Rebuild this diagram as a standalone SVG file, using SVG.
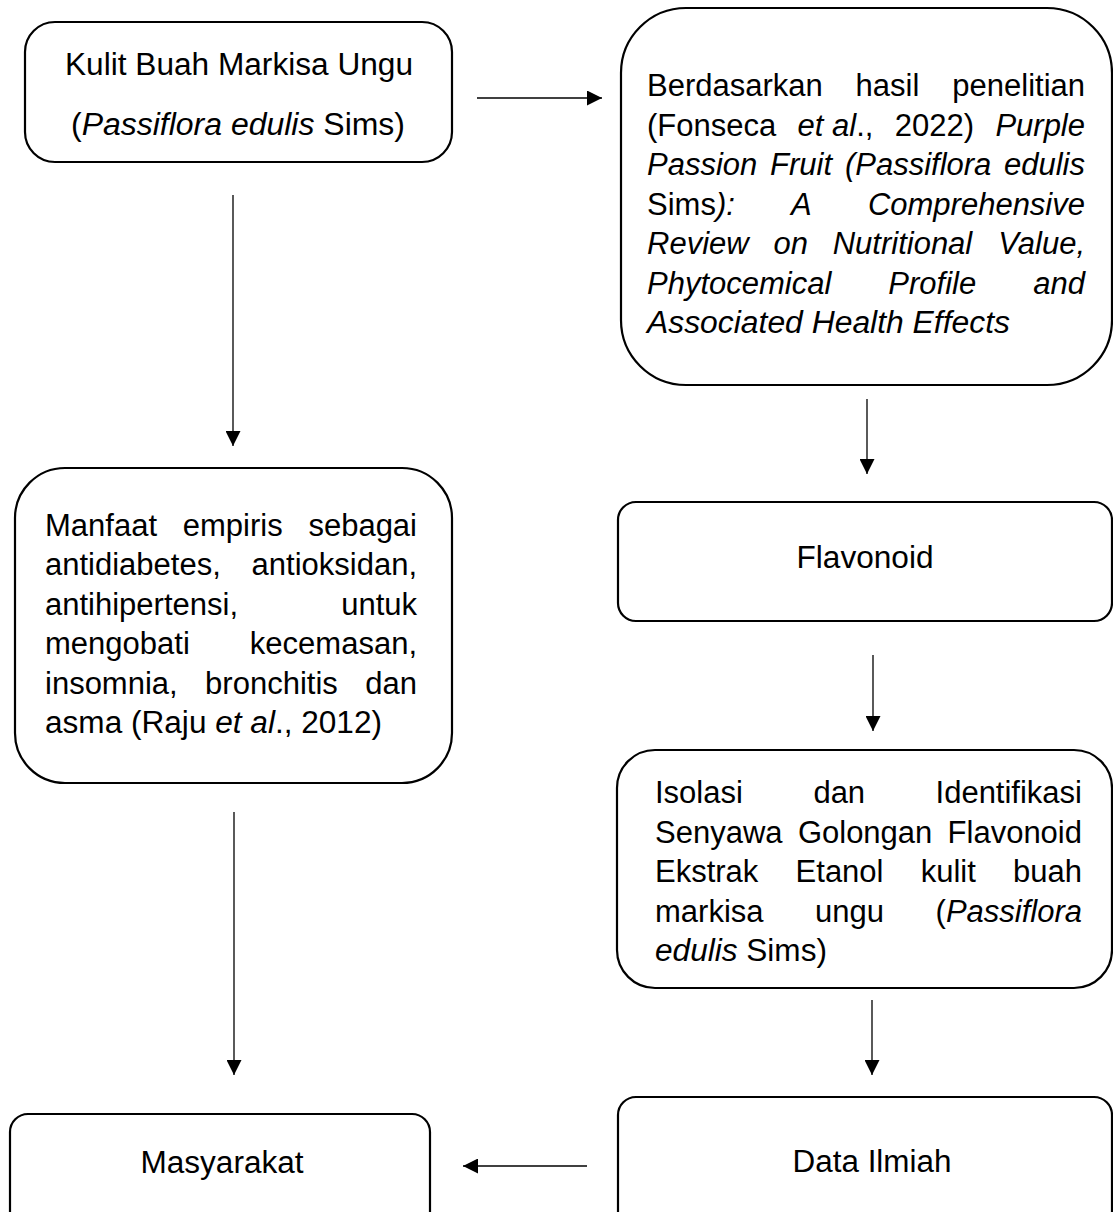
<svg xmlns="http://www.w3.org/2000/svg" width="1113" height="1212" viewBox="0 0 1113 1212">
<style>
.box{fill:#fff;stroke:#000;stroke-width:2.2}
.t{font-family:"Liberation Sans",Arial,sans-serif;font-size:31px;fill:#000}
.c{text-anchor:middle}
.e{text-anchor:end}
.i{font-style:italic}
.cn{stroke:#000;stroke-width:1.3;fill:none;marker-end:url(#ah)}
</style>
<defs>
<marker id="ah" markerUnits="userSpaceOnUse" markerWidth="15" markerHeight="15" refX="15" refY="7.5" orient="auto">
<path d="M0,0 L15,7.5 L0,15 Z" fill="#000"/>
</marker>
</defs>
<rect width="1113" height="1212" fill="#fff"/>

<g id="connectors">
<line class="cn" x1="477" y1="98" x2="602" y2="98"/>
<line class="cn" x1="233" y1="195" x2="233" y2="446"/>
<line class="cn" x1="234" y1="812" x2="234" y2="1075"/>
<line class="cn" x1="867" y1="399" x2="867" y2="474"/>
<line class="cn" x1="873" y1="655" x2="873" y2="731"/>
<line class="cn" x1="872" y1="1000" x2="872" y2="1075"/>
<line class="cn" x1="587" y1="1166" x2="463" y2="1166"/>
</g>

<g id="kulit">
<rect class="box" x="25" y="22" width="427" height="140" rx="30"/>
<text class="t c" x="239" y="75" textLength="348" lengthAdjust="spacingAndGlyphs">Kulit Buah Markisa Ungu</text>
<text class="t c" x="238" y="135" textLength="334" lengthAdjust="spacingAndGlyphs">(<tspan class="i">Passiflora edulis</tspan> Sims)</text>
</g>

<g id="berdasarkan">
<rect class="box" x="621" y="8" width="491" height="377" rx="65"/>
<text class="t" x="647" y="96">Berdasarkan</text>
<text class="t" x="855.6" y="96">hasil</text>
<text class="t e" x="1085" y="96">penelitian</text>
<text class="t" x="647" y="135.5">(Fonseca</text>
<text class="t" x="797.6" y="135.5"><tspan class="i">et al</tspan>.,</text>
<text class="t" x="894.8" y="135.5">2022)</text>
<text class="t e i" x="1085" y="135.5">Purple</text>
<text class="t i" x="647" y="175">Passion</text>
<text class="t i" x="770.1" y="175">Fruit</text>
<text class="t i" x="844.9" y="175">(Passiflora</text>
<text class="t e i" x="1085" y="175">edulis</text>
<text class="t" x="647" y="214.5">Sims<tspan class="i">):</tspan></text>
<text class="t i" x="791" y="214.5">A</text>
<text class="t e i" x="1085" y="214.5">Comprehensive</text>
<text class="t i" x="647" y="254">Review</text>
<text class="t i" x="773.4" y="254">on</text>
<text class="t i" x="832.7" y="254">Nutritional</text>
<text class="t e i" x="1085" y="254">Value,</text>
<text class="t i" x="647" y="293.5">Phytocemical</text>
<text class="t i" x="888.3" y="293.5">Profile</text>
<text class="t e i" x="1085" y="293.5">and</text>
<text class="t i" x="647" y="333" textLength="363" lengthAdjust="spacingAndGlyphs">Associated Health Effects</text>
</g>

<g id="manfaat">
<rect class="box" x="15" y="468" width="437" height="315" rx="50"/>
<text class="t" x="45" y="535.5">Manfaat</text>
<text class="t" x="182.8" y="535.5">empiris</text>
<text class="t e" x="417" y="535.5">sebagai</text>
<text class="t" x="45" y="575">antidiabetes,</text>
<text class="t e" x="417" y="575">antioksidan,</text>
<text class="t" x="45" y="614.5">antihipertensi,</text>
<text class="t e" x="417" y="614.5">untuk</text>
<text class="t" x="45" y="654">mengobati</text>
<text class="t e" x="417" y="654">kecemasan,</text>
<text class="t" x="45" y="693.5">insomnia,</text>
<text class="t" x="205.1" y="693.5">bronchitis</text>
<text class="t e" x="417" y="693.5">dan</text>
<text class="t" x="45" y="733" textLength="337" lengthAdjust="spacingAndGlyphs">asma (Raju <tspan class="i">et al</tspan>., 2012)</text>
</g>

<g id="flavonoid">
<rect class="box" x="618" y="502" width="494" height="119" rx="18"/>
<text class="t c" x="865" y="568" textLength="137" lengthAdjust="spacingAndGlyphs">Flavonoid</text>
</g>

<g id="isolasi">
<rect class="box" x="617" y="750" width="495" height="238" rx="38"/>
<text class="t" x="655" y="803">Isolasi</text>
<text class="t" x="813.4" y="803">dan</text>
<text class="t e" x="1082" y="803">Identifikasi</text>
<text class="t" x="655" y="842.5">Senyawa</text>
<text class="t" x="797.9" y="842.5">Golongan</text>
<text class="t e" x="1082" y="842.5">Flavonoid</text>
<text class="t" x="655" y="882">Ekstrak</text>
<text class="t" x="795.6" y="882">Etanol</text>
<text class="t" x="920.7" y="882">kulit</text>
<text class="t e" x="1082" y="882">buah</text>
<text class="t" x="655" y="921.5">markisa</text>
<text class="t" x="815.1" y="921.5">ungu</text>
<text class="t e" x="1082" y="921.5">(<tspan class="i">Passiflora</tspan></text>
<text class="t" x="655" y="961" textLength="172" lengthAdjust="spacingAndGlyphs"><tspan class="i">edulis</tspan> Sims)</text>
</g>

<g id="data-ilmiah">
<rect class="box" x="618" y="1097" width="494" height="140" rx="18"/>
<text class="t c" x="872" y="1172" textLength="159" lengthAdjust="spacingAndGlyphs">Data Ilmiah</text>
</g>

<g id="masyarakat">
<rect class="box" x="10" y="1114" width="420" height="130" rx="18"/>
<text class="t c" x="222" y="1173" textLength="163" lengthAdjust="spacingAndGlyphs">Masyarakat</text>
</g>
</svg>
